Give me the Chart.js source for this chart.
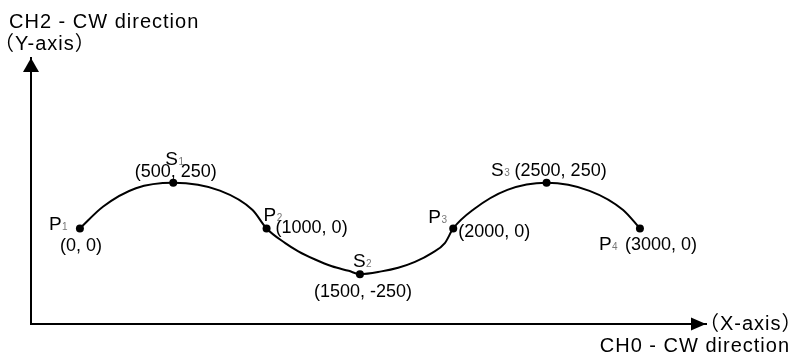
<!DOCTYPE html>
<html lang="en">
<head>
  <meta charset="UTF-8">
  <title>CH0 / CH2 arc path</title>
  <script src="https://cdn.jsdelivr.net/npm/chart.js"></script>
  <style>
    html, body { margin: 0; padding: 0; background: #fff; }
    .wrap { position: relative; width: 791px; height: 362px; }
  </style>
</head>
<body>
  <div class="wrap">
    <canvas id="pathChart"></canvas>
  </div>

  <script>
    // labelled positions (data units)
    const pointNames = ['P1', 'S1', 'P2', 'S2', 'P3', 'S3', 'P4'];
    const pointX = [0, 500, 1000, 1500, 2000, 2500, 3000];
    const pointY = [0, 250, 0, -250, 0, 250, 0];

    // the drawn path
    const curveX = [0, 125, 300, 500, 750, 925, 1000, 1100, 1170, 1260, 1350, 1440, 1500, 1615, 1705, 1795, 1885, 1955, 2000, 2110, 2290, 2500, 2730, 2910, 3000];
    const curveY = [0, 120, 220, 250, 207, 101, 0, -80, -125, -170, -207, -232, -250, -235, -215, -183, -135, -80, 0, 105, 211, 250, 206, 101, 0];

    const yAxisTitle = ['CH2 - CW direction', '（Y-axis）'];
    const xAxisTitle = ['（X-axis）', 'CH0 - CW direction'];

    // where each label sits around its dot: [dx, dy] of name and of coordinate text
    const labelPlace = {
      P1: { name: [-31, 1.5], coord: [-20, 22.5], align: 'left' },
      S1: { name: [-8, -18], coord: [2.5, -6], align: 'center' },
      P2: { name: [-3, -7], coord: [9, 5], align: 'left' },
      S2: { name: [-7, -7], coord: [3, 22.5], align: 'center' },
      P3: { name: [-25, -5], coord: [5, 9], align: 'left' },
      S3: { name: [-55.5, -7], coord: [-32, -7], align: 'left' },
      P4: { name: [-41, 22], coord: [-15, 22], align: 'left' }
    };

    const FONT = '"Liberation Sans", Arial, "Noto Sans CJK JP", sans-serif';

    const pathLabels = {
      id: 'pathLabels',
      afterDraw(chart) {
        const ctx = chart.ctx;
        const area = chart.chartArea;
        ctx.save();
        ctx.fillStyle = '#000';

        // arrow heads on the two axes
        ctx.beginPath();
        ctx.moveTo(area.left, area.top);
        ctx.lineTo(area.left - 8, area.top + 14);
        ctx.lineTo(area.left + 8, area.top + 14);
        ctx.closePath();
        ctx.fill();
        ctx.beginPath();
        ctx.moveTo(area.right, area.bottom);
        ctx.lineTo(area.right - 15, area.bottom - 6.5);
        ctx.lineTo(area.right - 15, area.bottom + 6.5);
        ctx.closePath();
        ctx.fill();

        // axis titles
        ctx.textBaseline = 'alphabetic';
        ctx.textAlign = 'left';
        ctx.font = '20px ' + FONT;
        ctx.letterSpacing = '1px';
        ctx.fillText(yAxisTitle[0], area.left - 22, 28);
        ctx.fillText(yAxisTitle[1], area.left - 37, 50);
        ctx.fillText(xAxisTitle[0], area.right - 7, area.bottom + 5.5);
        ctx.textAlign = 'right';
        ctx.fillText(xAxisTitle[1], 790, area.bottom + 27.5);
        ctx.letterSpacing = '0px';

        // point names and coordinates
        const meta = chart.getDatasetMeta(1);
        meta.data.forEach((pt, i) => {
          const name = pointNames[i];
          const place = labelPlace[name];
          let nx = pt.x + place.name[0];
          const ny = pt.y + place.name[1];
          ctx.textAlign = 'left';
          ctx.font = '19px ' + FONT;
          ctx.fillStyle = '#000';
          ctx.fillText(name[0], nx, ny);
          nx += ctx.measureText(name[0]).width + 0.5;
          ctx.font = '10px ' + FONT;
          ctx.fillStyle = '#777';
          ctx.fillText(name.slice(1), nx, ny);

          ctx.font = '18px ' + FONT;
          ctx.fillStyle = '#000';
          ctx.textAlign = place.align;
          ctx.fillText('(' + pointX[i] + ', ' + pointY[i] + ')', pt.x + place.coord[0], pt.y + place.coord[1]);
        });
        ctx.restore();
      }
    };

    new Chart(document.getElementById('pathChart'), {
      type: 'scatter',
      data: {
        datasets: [
          {
            label: 'path',
            data: curveX.map((x, i) => ({ x: x, y: curveY[i] })),
            showLine: true,
            borderColor: '#000',
            borderWidth: 2,
            pointRadius: 0,
            cubicInterpolationMode: 'monotone',
            fill: false
          },
          {
            label: 'points',
            data: pointX.map((x, i) => ({ x: x, y: pointY[i] })),
            showLine: false,
            pointRadius: 4,
            pointBackgroundColor: '#000',
            pointBorderColor: '#000',
            pointBorderWidth: 0
          }
        ]
      },
      options: {
        responsive: true,
        maintainAspectRatio: false,
        animation: false,
        events: [],
        layout: { padding: { left: 31, right: 85, top: 58, bottom: 38 } },
        plugins: {
          legend: { display: false },
          tooltip: { enabled: false }
        },
        scales: {
          x: {
            type: 'linear',
            min: -262,
            max: 3354,
            ticks: { display: false },
            grid: { display: false, drawTicks: false },
            border: { display: true, color: '#000', width: 2 }
          },
          y: {
            type: 'linear',
            min: -523,
            max: 933,
            ticks: { display: false },
            grid: { display: false, drawTicks: false },
            border: { display: true, color: '#000', width: 2 }
          }
        }
      },
      plugins: [pathLabels]
    });
  </script>
</body>
</html>
